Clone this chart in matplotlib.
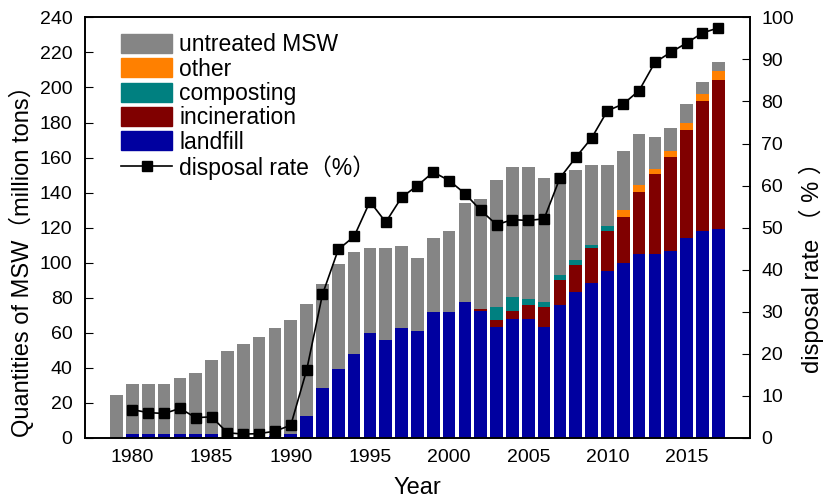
import numpy as np
import matplotlib
matplotlib.use("Agg")
import matplotlib.pyplot as plt
from matplotlib.patches import Patch
from matplotlib.lines import Line2D

plt.rcParams['font.family'] = ['Liberation Sans', 'Noto Sans CJK SC', 'DejaVu Sans']

# Data (million tons / %)
years = list(range(1979, 2018))
total = [24.5, 30.8, 30.8, 30.8, 34.0, 37.2, 44.5, 49.8, 53.6, 57.4, 62.5, 67.3,
         76.4, 87.6, 99.0, 106.2, 108.1, 108.1, 109.5, 102.6, 113.8, 117.8, 134.2,
         136.1, 147.4, 154.4, 154.4, 148.6, 151.0, 153.0, 155.5, 155.5, 163.6,
         173.5, 171.6, 176.7, 190.6, 203.0, 214.8]
landfill = [0, 2, 2, 2, 2, 2, 2, 0.5, 0.5, 0.5, 1, 2,
            12.2, 28.3, 39.3, 47.7, 60.0, 55.7, 62.5, 61.2, 71.9, 71.9, 77.6,
            72.5, 63.5, 68.0, 67.7, 63.3, 75.7, 83.4, 88.4, 95.2, 100.0,
            104.7, 104.7, 106.6, 114.2, 118.0, 119.4]
incineration = [0] * 23 + [1.2, 3.6, 4.4, 8.0, 11.6, 14.5, 15.5, 19.7, 23.0, 26.0,
                           35.6, 46.0, 53.6, 61.6, 74.0, 84.9]
composting = [0] * 24 + [7.8, 8.1, 3.8, 2.7, 2.5, 2.4, 2.1, 2.5, 0,
                         0, 0, 0, 0, 0, 0]
other = [0] * 32 + [4.2, 3.8, 2.5, 3.4, 3.8, 4.3, 5.3]

rate_years = list(range(1980, 2018))
disposal_rate = [6.7, 6.0, 5.8, 7.0, 4.8, 5.0, 1.2, 0.9, 1.0, 1.6, 3.0, 16.1,
                 34.1, 44.8, 47.9, 56.2, 51.3, 57.2, 60.0, 63.2, 61.2, 58.1, 54.1,
                 50.7, 51.9, 51.7, 52.1, 61.8, 66.7, 71.3, 77.8, 79.4, 82.6, 89.3,
                 91.7, 93.9, 96.3, 97.5]

colors = {"landfill": "#0000A0", "incineration": "#800000", "composting": "#008080",
          "other": "#FF8000", "untreated MSW": "#858585"}

x = np.array(years)
lf = np.array(landfill)
inc = np.array(incineration)
comp = np.array(composting)
oth = np.array(other)
untreated = np.array(total) - lf - inc - comp - oth

fig = plt.figure(figsize=(8.25, 4.97), dpi=100)
ax = fig.add_axes([0.103, 0.119, 0.806, 0.846])

w = 0.8
ax.bar(x, lf, w, color=colors["landfill"])
ax.bar(x, inc, w, bottom=lf, color=colors["incineration"])
ax.bar(x, comp, w, bottom=lf + inc, color=colors["composting"])
ax.bar(x, oth, w, bottom=lf + inc + comp, color=colors["other"])
ax.bar(x, untreated, w, bottom=lf + inc + comp + oth, color=colors["untreated MSW"])

ax.set_xlim(1977, 2019)
ax.set_ylim(0, 240)
ax.set_yticks(range(0, 241, 20))
ax.set_xticks(range(1980, 2016, 5))
ax.tick_params(axis='y', direction='in', labelsize=14, length=6, pad=9)
ax.tick_params(axis='x', direction='in', labelsize=14, length=0, pad=8)
ax.set_xlabel("Year", fontsize=17)
ax.xaxis.set_label_coords(0.5, -0.092)
ax.set_ylabel("Quantities of MSW（million tons）", fontsize=17)
ax.yaxis.set_label_coords(-0.076, 0.434)

ax2 = ax.twinx()
ax2.plot(rate_years, disposal_rate, color='black', lw=1.2, marker='s', ms=7,
         markerfacecolor='black')
ax2.set_ylim(0, 100)
ax2.set_yticks(range(0, 101, 10))
ax2.tick_params(axis='y', direction='in', labelsize=14, length=6, pad=8)
ax2.set_ylabel("disposal rate （ % ）", fontsize=17)
ax2.yaxis.set_label_coords(1.074, 0.42)

for a in (ax, ax2):
    for s in a.spines.values():
        s.set_linewidth(1.2)

handles = [Patch(color=colors[k]) for k in ["untreated MSW", "other", "composting", "incineration", "landfill"]]
handles.append(Line2D([0], [0], color='black', lw=1.2, marker='s', ms=7))
labels = ["untreated MSW", "other", "composting", "incineration", "landfill", "disposal rate（%）"]
ax2.legend(handles, labels, loc='upper left', bbox_to_anchor=(0.054, 0.962), frameon=False,
           fontsize=16.5, handlelength=2.25, handleheight=0.9, labelspacing=0.06,
           handletextpad=0.3, borderaxespad=0, borderpad=0)

fig.savefig("out.png", dpi=100)
